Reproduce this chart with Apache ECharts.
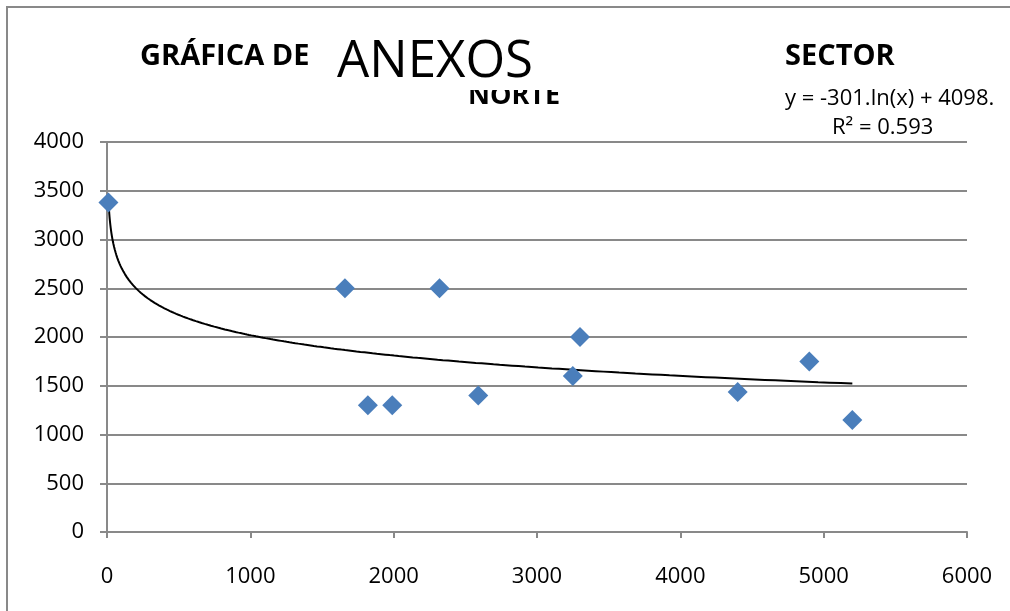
<!DOCTYPE html>
<html>
<head>
<meta charset="utf-8">
<script src="https://cdn.jsdelivr.net/npm/echarts@6/dist/echarts.min.js"></script>
<style>
  html, body { margin: 0; padding: 0; background: #fff; }
  #chart { width: 1010px; height: 611px; }
</style>
</head>
<body>
<div id="chart"></div>
<script>
// Scatter of observations for the northern sector
const xValues = [10, 1660, 1820, 1990, 2320, 2590, 3250, 3300, 4400, 4900, 5200];
const yValues = [3380, 2500, 1300, 1300, 2500, 1400, 1600, 2000, 1435, 1750, 1150];

// Logarithmic trend line as stated in the equation label
const trendA = -301;
const trendB = 4098;
const trendLabel = 'y = -301.ln(x) + 4098.';
const r2Label = 'R² = 0.593';

const xTicks = { min: 0, max: 6000, interval: 1000 };
const yTicks = { min: 0, max: 4000, interval: 500 };

const points = xValues.map((x, i) => [x, yValues[i]]);

// sample the trend curve across the observed x range (log-spaced near the origin)
const xMin = Math.min(...xValues);
const xMax = Math.max(...xValues);
const trend = [];
const steps = 400;
for (let i = 0; i <= steps; i++) {
  const x = xMin * Math.pow(xMax / xMin, i / steps);
  trend.push([x, trendA * Math.log(x) + trendB]);
}

const font = '"Open Sans", sans-serif';
const gray = '#898989';
const plain = v => String(v);

const chart = echarts.init(document.getElementById('chart'));
chart.setOption({
  animation: false,
  backgroundColor: '#fff',
  grid: { left: 107, right: 43, top: 142, bottom: 79 },
  xAxis: {
    type: 'value',
    min: xTicks.min, max: xTicks.max, interval: xTicks.interval,
    axisLine: { lineStyle: { color: gray, width: 2 } },
    axisTick: { show: true, length: 6, lineStyle: { color: gray, width: 2 } },
    splitLine: { show: false },
    axisLabel: { color: '#000', fontFamily: font, fontSize: 22, margin: 34, formatter: plain }
  },
  yAxis: {
    type: 'value',
    min: yTicks.min, max: yTicks.max, interval: yTicks.interval,
    axisLine: { show: true, lineStyle: { color: gray, width: 2 } },
    axisTick: { show: true, length: 7, lineStyle: { color: gray, width: 2 } },
    splitLine: { show: true, lineStyle: { color: gray, width: 2 } },
    axisLabel: { color: '#000', fontFamily: font, fontSize: 22, margin: 23, formatter: plain }
  },
  series: [
    {
      type: 'line',
      data: trend,
      showSymbol: false,
      lineStyle: { color: '#000', width: 2 },
      z: 3
    },
    {
      type: 'scatter',
      data: points,
      symbol: 'diamond',
      symbolSize: 20,
      itemStyle: { color: '#4A7EBB', opacity: 1 },
      z: 4
    }
  ],
  graphic: [
    { type: 'rect', shape: { x: 7, y: 7, width: 1100, height: 700 },
      style: { fill: 'none', stroke: gray, lineWidth: 2 }, z: 1 },
    { type: 'text', left: 140, top: 42,
      style: { text: 'GRÁFICA DE', fontFamily: font, fontWeight: 'bold', fontSize: 29, fill: '#000' }, z: 10 },
    { type: 'text', left: 785, top: 42,
      style: { text: 'SECTOR', fontFamily: font, fontWeight: 'bold', fontSize: 29, fill: '#000' }, z: 10 },
    { type: 'text', left: 468, top: 83,
      style: { text: 'NORTE', fontFamily: font, fontWeight: 'bold', fontSize: 27, fill: '#000' }, z: 10 },
    { type: 'rect', shape: { x: 320, y: 20, width: 260, height: 70 },
      style: { fill: '#fff' }, z: 11 },
    { type: 'text', left: 337, top: 37,
      style: { text: 'ANEXOS', fontFamily: font, fontSize: 51, fill: '#000' }, z: 12 },
    { type: 'text', left: 785, top: 88,
      style: { text: trendLabel, fontFamily: font, fontSize: 22, fill: '#000' }, z: 10 },
    { type: 'text', left: 832, top: 117,
      style: { text: r2Label, fontFamily: font, fontSize: 22, fill: '#000' }, z: 10 }
  ]
});
</script>
</body>
</html>
